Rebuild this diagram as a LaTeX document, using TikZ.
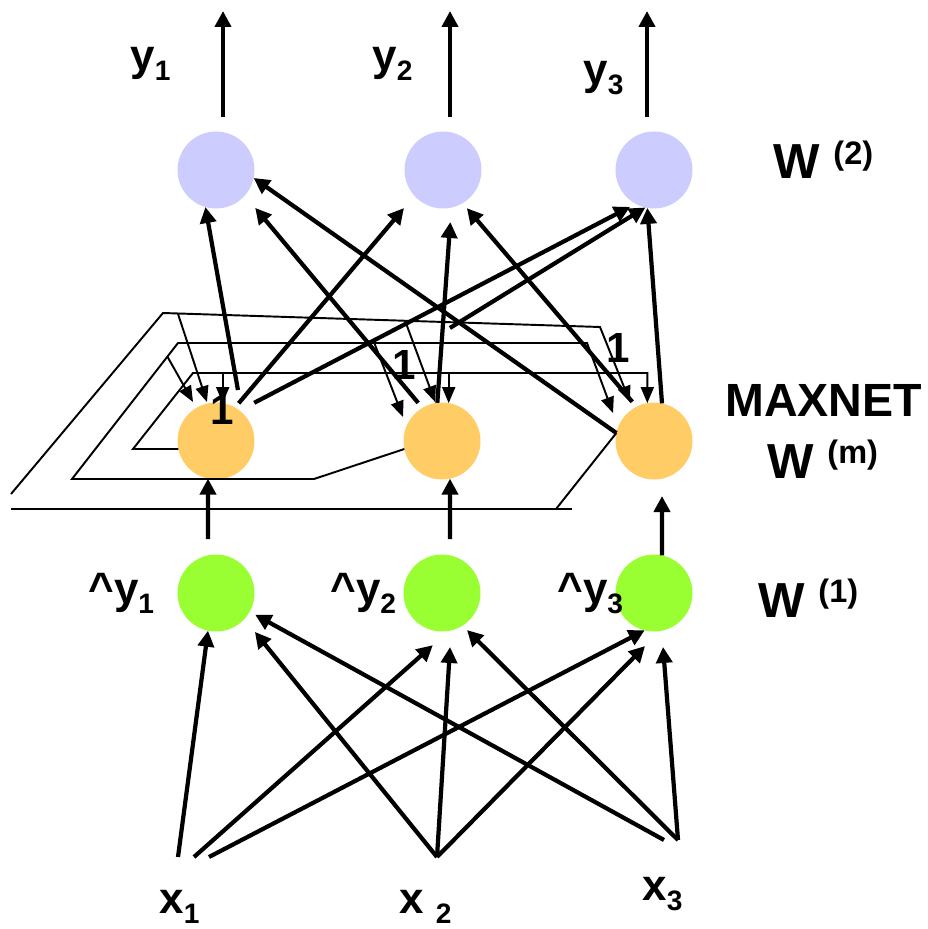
\documentclass[tikz,border=0pt]{standalone}
\usepackage{fontspec}
\setmainfont{Liberation Sans}
\usetikzlibrary{arrows.meta, calc}
\definecolor{outcolor}{HTML}{CCCCFF}
\definecolor{maxcolor}{HTML}{FFCC66}
\definecolor{incolor}{HTML}{99FF33}
\newcommand{\lsub}[1]{\raisebox{-0.2cm}{\fontsize{16}{16}\selectfont #1}}
\newcommand{\lsup}[1]{\raisebox{0.3cm}{\fontsize{18.5}{18.5}\selectfont #1}}

\begin{document}
\begin{tikzpicture}[
    x=0.02cm, y=0.02cm,
    neuron/.style={circle, minimum size=1.54cm, inner sep=0pt, outer sep=0pt},
    lbl/.style={inner sep=0pt, anchor=base west, font=\fontsize{25}{25}\selectfont\bfseries},
    wlbl/.style={inner sep=0pt, anchor=base west, font=\fontsize{28}{28}\selectfont\bfseries},
    one/.style={inner sep=0pt, font=\fontsize{24}{24}\selectfont\bfseries},
    arrow/.style={-{Triangle[length=0.32cm, width=0.32cm]}, line width=2.4pt},
    fb/.style={line width=1.1pt},
    fbarrow/.style={-{Triangle[length=0.32cm, width=0.26cm]}, line width=1.1pt}
]
\useasboundingbox (0,0) rectangle (927,-929);

\node[neuron, fill=outcolor] (t1) at (216,-170) {};
\node[neuron, fill=outcolor] (t2) at (443,-170) {};
\node[neuron, fill=outcolor] (t3) at (654,-170) {};
\node[neuron, fill=maxcolor] (o1) at (216,-441) {};
\node[neuron, fill=maxcolor] (o2) at (442,-441) {};
\node[neuron, fill=maxcolor] (o3) at (654,-441) {};
\node[neuron, fill=incolor] (g1) at (216,-593) {};
\node[neuron, fill=incolor] (g2) at (442,-593) {};
\node[neuron, fill=incolor] (g3) at (654,-593) {};

\node[lbl] (ly1) at (130,-71) {y\lsub{1}};
\node[lbl] (ly2) at (372,-71) {y\lsub{2}};
\node[lbl] (ly3) at (583,-85) {y\lsub{3}};
\node[lbl] (lh1) at (88,-603) {\textasciicircum y\lsub{1}};
\node[lbl] (lh2) at (330,-603) {\textasciicircum y\lsub{2}};
\node[lbl] (lh3) at (557,-603) {\textasciicircum y\lsub{3}};
\node[lbl] (lx1) at (159,-913) {x\lsub{1}};
\node[lbl] (lx2) at (399,-913) {x \lsub{2}};
\node[lbl] (lx3) at (642,-900) {x\lsub{3}};
\node[wlbl] (w2) at (773,-179) {W \lsup{(2)}};
\node[wlbl, font=\fontsize{26.5}{26.5}\selectfont\bfseries] (maxnet) at (725,-416) {MAXNET};
\node[wlbl] (wm) at (767,-478) {W \lsup{(m)}};
\node[wlbl] (w1) at (758,-617) {W \lsup{(1)}};
\node[one] (one1) at (222,-410) {1};
\node[one] (one2) at (404,-365) {1};
\node[one] (one3) at (618,-348) {1};

\coordinate (inL) at (133,-449);
\coordinate (inT) at (193,-373);
\coordinate (midB) at (314,-479);
\coordinate (midL) at (72,-479);
\coordinate (midT) at (178,-343);
\coordinate (midR) at (587,-343);
\coordinate (outJ) at (556,-509);
\coordinate (outE) at (572,-509);
\coordinate (outBL) at (11,-509);
\coordinate (outL) at (11,-494);
\coordinate (outT) at (163,-313);
\coordinate (outR) at (600,-327);

\draw[fbarrow] (o1.192) -- (inL) -- (inT) -| (o3.100);
\draw[fbarrow] (inT -| o1.80) -- (o1.80);
\draw[fbarrow] (inT -| o2.80) -- (o2.80);
\draw[fbarrow] (o2.192) -- (midB) -- (midL) -- (midT) -- (midR) -- ($(o3)+(145.7:49.6)$);
\draw[fbarrow] ($(midL)!0.9!(midT)$) -- ($(o1)+(120.5:45.3)$);
\draw[fbarrow] ($(midT)!0.48!(midR)$) -- ($(o2)+(148.4:45.8)$);
\draw[fb] (o3.168) -- (outJ);
\draw[fb] (outE) -- (outBL);
\draw[fbarrow] (outL) -- (outT) -- (outR) -- ($(o3)+(121.6:45.8)$);
\draw[fbarrow] ($(outT)!0.034!(outR)$) -- ($(o1)+(103:40)$);
\draw[fbarrow] ($(outT)!0.554!(outR)$) -- ($(o2)+(100:39.6)$);

\draw[arrow] ($(t1)+(7,53)$) -- ($(t1)+(7,159)$);
\draw[arrow] ($(t2)+(7,53)$) -- ($(t2)+(7,159)$);
\draw[arrow] ($(t3)+(-7,53)$) -- ($(t3)+(-7,159)$);

\draw[arrow] ($(o1)+(66.7:55.5)$) -- (t1.-106);
\draw[arrow] ($(o1)+(59:44)$) -- ($(t2)+(-135.7:54.5)$);
\draw[arrow] ($(o1)+(45:54)$) -- ($(t3)+(-123:44)$);
\draw[arrow] ($(o2)+(122:45)$) -- ($(t1)+(-44:54.5)$);
\draw[arrow] (o2.97) -- ($(t2)+(-82:52.5)$);
\draw[arrow] ($(o2)+(86:113.3)$) -- (t3.-103);
\draw[arrow] (o3.168) -- (t1.-12);
\draw[arrow] ($(o3)+(119:44.8)$) -- ($(t2)+(-58:45)$);
\draw[arrow] (o3.78) -- (t3.-100);

\draw[arrow] ($(g1)+(-8,54)$) -- (o1.-102);
\draw[arrow] ($(g2)+(8,54)$) -- (o2.-78);
\draw[arrow] (g3.78) -- ($(o3)+(8,-55)$);

\coordinate (in1a) at (178,-857);
\coordinate (in1b) at (194,-857);
\coordinate (in1c) at (209,-857);
\coordinate (in2) at (437,-857);
\coordinate (in3a) at (664,-840);
\coordinate (in3b) at (678,-840);

\draw[arrow] (in1a) -- (g1.-102);
\draw[arrow] (in1b) -- ($(g2)+(-100:53)$);
\draw[arrow] (in1c) -- (g3.-104);
\draw[arrow] (in2) -- ($(g1)+(-45:55)$);
\draw[arrow] (in2) -- ($(g2)+(-81.5:54.6)$);
\draw[arrow] (in2) -- ($(g3)+(-99.6:53.8)$);
\draw[arrow] (in3a) -- ($(g1)+(-29:44.8)$);
\draw[arrow] (in3b) -- ($(g2)+(-56:44.7)$);
\draw[arrow] (in3b) -- ($(g3)+(-80.5:54.7)$);
\end{tikzpicture}
\end{document}
